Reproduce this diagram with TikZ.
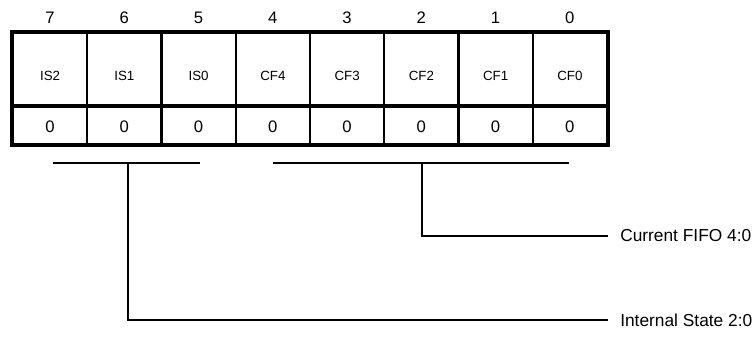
\documentclass[tikz,border=0pt]{standalone}
\usepackage{fontspec}
\setmainfont{Liberation Sans}
\begin{document}
\begin{tikzpicture}[x=0.75pt,y=-0.75pt,
  cell/.style={draw,line width=1.5pt,minimum width=55.7pt,inner sep=0pt,anchor=center},
  namecell/.style={cell,minimum height=54pt},
  valcell/.style={cell,minimum height=29.25pt},
  nametext/.style={font=\fontsize{10}{12}\selectfont,inner sep=0pt},
  valtext/.style={font=\fontsize{12.5}{15}\selectfont,inner sep=0pt},
  bitnum/.style={font=\fontsize{12.5}{15}\selectfont,inner sep=0pt},
  thickline/.style={line width=3pt},
  bracket/.style={line width=1.5pt},
  lbl/.style={font=\fontsize{13}{15}\selectfont,anchor=west,inner sep=0pt}]
\useasboundingbox (0,0) rectangle (756,354);
\foreach \n/\lab [count=\i from 0] in {7/IS2,6/IS1,5/IS0,4/CF4,3/CF3,2/CF2,1/CF1,0/CF0}{
  \pgfmathsetmacro{\cx}{13+74.25*(\i+0.5)}
  \node[bitnum] (b\n) at (\cx,17.5) {\n};
  \node[namecell] (n\n) at (\cx,69) {};
  \node[nametext] (t\n) at (\cx,76) {\lab};
  \node[valcell] (v\n) at (\cx,124.5) {};
  \node[valtext] (z\n) at (\cx,126.5) {0};
}
\draw[thickline] (n7.north west) rectangle (v0.south east);
\draw[thickline] (n7.south west) -- (n0.south east);
% brackets
\coordinate (isl) at (53,163);
\coordinate (isr) at (200,163);
\coordinate (ism) at (128,163);
\coordinate (cfl) at (273,163);
\coordinate (cfr) at (569,163);
\coordinate (cfm) at (422,163);
\coordinate (cfe) at (608,236);
\coordinate (ise) at (608,320);
\node[lbl] (cflbl) at (620,236) {Current FIFO 4:0};
\node[lbl] (islbl) at (620,320) {Internal State 2:0};
\draw[bracket] (isl) -- (isr);
\draw[bracket] (cfl) -- (cfr);
\draw[bracket] (cfm) |- (cfe);
\draw[bracket] (ism) |- (ise);
\end{tikzpicture}
\end{document}
